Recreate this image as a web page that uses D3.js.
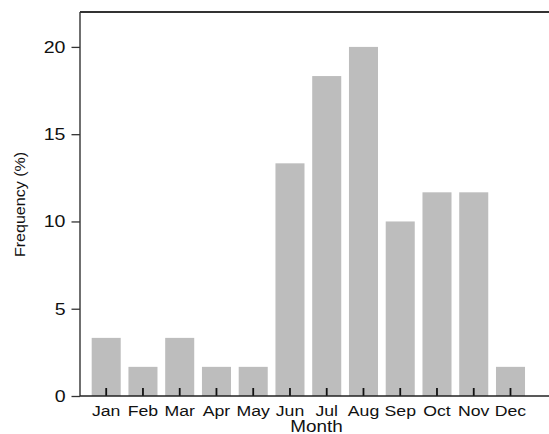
<!DOCTYPE html>
<html>
<head>
<meta charset="utf-8">
<script src="https://cdn.jsdelivr.net/npm/d3@7"></script>
<style>
  html, body { margin: 0; padding: 0; background: #fff; }
  svg { display: block; }
  text { font-family: "Liberation Sans", Arial, Helvetica, sans-serif; fill: #111; }
</style>
</head>
<body>
<svg id="chart" width="549" height="434"></svg>
<script>
// Monthly frequency of events (%)
const months = ["Jan", "Feb", "Mar", "Apr", "May", "Jun", "Jul", "Aug", "Sep", "Oct", "Nov", "Dec"];
const frequency = [3.33, 1.67, 3.33, 1.67, 1.67, 13.33, 18.33, 20.0, 10.0, 11.67, 11.67, 1.67];
const yTicks = [0, 5, 10, 15, 20];

const svg = d3.select("#chart");
const W = 549;
const plotLeft = 80, plotTop = 12, plotBottom = 396;
const FONT = "'Liberation Sans', Arial, sans-serif";

// widen glyphs horizontally by factor k
function stretch(sel, k) {
  sel.each(function () {
    const len = this.getComputedTextLength();
    d3.select(this)
      .attr("textLength", len * k)
      .attr("lengthAdjust", "spacingAndGlyphs");
  });
}

const x = d3.scaleBand()
  .domain(months)
  .range([plotLeft, 536.7])
  .paddingInner(0.21)
  .paddingOuter(0.318);

const y = d3.scaleLinear()
  .domain([0, 22])
  .range([plotBottom, plotTop]);

// bars
svg.append("g")
  .selectAll("rect")
  .data(months.map((m, i) => ({ m, v: frequency[i] })))
  .join("rect")
  .attr("x", d => x(d.m))
  .attr("y", d => y(d.v))
  .attr("width", x.bandwidth())
  .attr("height", d => y(0) - y(d.v))
  .attr("fill", "#bdbdbd");

// frame: left and top lines
svg.append("line")
  .attr("x1", plotLeft).attr("x2", plotLeft).attr("y1", plotTop).attr("y2", plotBottom)
  .attr("stroke", "#222").attr("stroke-width", 1.3);
svg.append("line")
  .attr("x1", plotLeft).attr("x2", W).attr("y1", plotTop).attr("y2", plotTop)
  .attr("stroke", "#333").attr("stroke-width", 1.8);

// x axis with ticks pointing inward
const xAxis = svg.append("g")
  .attr("transform", `translate(0,${plotBottom})`)
  .call(d3.axisBottom(x).tickSize(-8).tickPadding(9).tickSizeOuter(0));
xAxis.select(".domain").remove();
xAxis.append("line")
  .attr("x1", plotLeft).attr("x2", W).attr("y1", 0).attr("y2", 0)
  .attr("stroke", "#222").attr("stroke-width", 1.3);
xAxis.selectAll(".tick line").attr("stroke", "#111").attr("stroke-width", 1.8);
xAxis.selectAll(".tick text")
  .attr("font-size", 15.5)
  .attr("fill", "#111")
  .attr("font-family", FONT)
  .attr("dy", null)
  .attr("y", 20.3)
  .call(stretch, 1.14);

// y axis with ticks pointing outward
const yAxis = svg.append("g")
  .attr("transform", `translate(${plotLeft},0)`)
  .call(d3.axisLeft(y).tickValues(yTicks).tickSize(8.5).tickPadding(6).tickSizeOuter(0));
yAxis.select(".domain").remove();
yAxis.selectAll(".tick line").attr("stroke", "#333").attr("stroke-width", 1.3);
yAxis.selectAll(".tick text")
  .attr("font-size", 17)
  .attr("fill", "#111")
  .attr("font-family", FONT)
  .call(stretch, 1.15);

// axis titles
svg.append("text")
  .attr("x", 316.5)
  .attr("y", 432)
  .attr("text-anchor", "middle")
  .attr("font-size", 16)
  .attr("font-family", FONT)
  .text("Month")
  .call(stretch, 1.18);

svg.append("text")
  .attr("transform", "translate(25,204.5) rotate(-90)")
  .attr("text-anchor", "middle")
  .attr("font-size", 15)
  .attr("font-family", FONT)
  .text("Frequency (%)")
  .call(stretch, 1.07);
</script>
</body>
</html>
